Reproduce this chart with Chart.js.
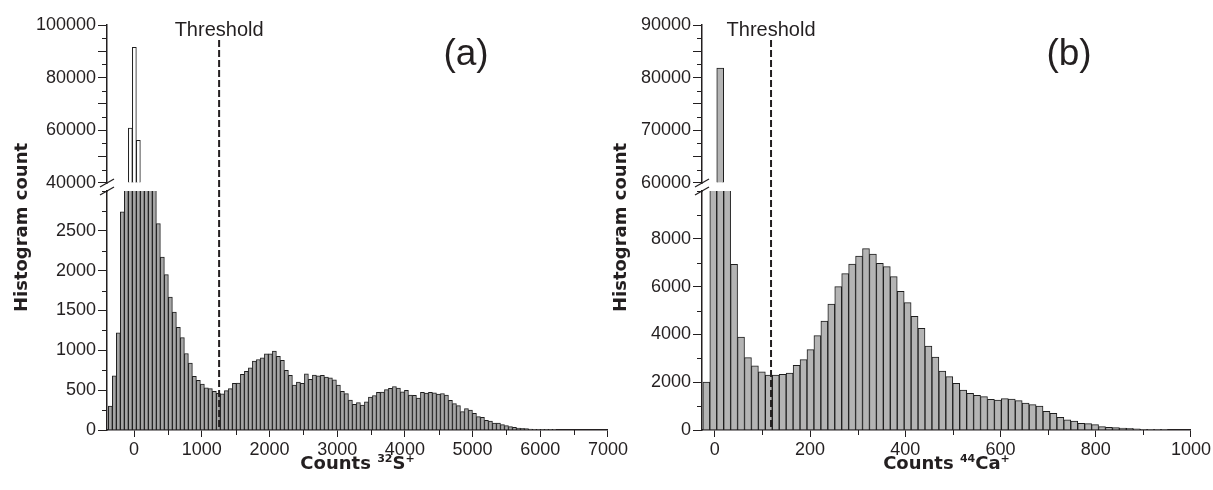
<!DOCTYPE html>
<html>
<head>
<meta charset="utf-8">
<script src="https://cdn.jsdelivr.net/npm/chart.js@4.4.1/dist/chart.umd.min.js"></script>
<style>
  html, body { margin: 0; padding: 0; background: #fff; }
  #wrap { position: relative; width: 1213px; height: 490px; overflow: hidden; }
  canvas { position: absolute; top: 0; }
  #chartS { left: 0; }
  #chartCa { left: 600px; }
</style>
</head>
<body>
<div id="wrap">
  <canvas id="chartS" width="630" height="490"></canvas>
  <canvas id="chartCa" width="613" height="490"></canvas>
</div>
<script>
'use strict';

// 32S+ histogram: lower edge of the first bin, bin width, counts per bin
const binStartS = -380;
const binWidthS = 59.1;
const countsS = [
  300, 680, 1220, 2740, 18000, 60900, 91500, 56200, 24000, 9000,
  5000, 3400, 2590, 2170, 1950, 1670, 1480, 1290, 1160, 960,
  840, 675, 625, 575, 530, 520, 485, 460, 455, 495,
  520, 585, 590, 700, 735, 780, 865, 885, 905, 955,
  955, 990, 925, 875, 750, 685, 565, 600, 586, 705,
  635, 690, 680, 686, 665, 655, 630, 565, 485, 456,
  377, 322, 343, 312, 355, 412, 433, 473, 475, 506,
  523, 546, 525, 479, 498, 437, 435, 402, 473, 462,
  473, 466, 450, 458, 439, 372, 331, 305, 230, 268,
  251, 209, 167, 159, 121, 113, 88, 88, 67, 54,
  42, 33, 25, 21, 17, 12, 8, 8, 5, 4,
  3, 2
];
const thresholdS = 1256;

// 44Ca+ histogram
const binStartCa = -25.2;
const binWidthCa = 14.58;
const countsCa = [
  2000, 35000, 81800, 20000, 6930, 3890, 3030, 2680, 2430, 2300,
  2300, 2330, 2385, 2705, 2945, 3360, 3950, 4560, 5270, 6000,
  6545, 6945, 7280, 7590, 7365, 6975, 6835, 6415, 5805, 5330,
  4755, 4255, 3515, 3055, 2470, 2230, 1955, 1675, 1535, 1450,
  1395, 1285, 1255, 1310, 1295, 1230, 1130, 1060, 1005, 780,
  700, 530, 430, 375, 280, 265, 225, 140, 110, 100,
  85, 70, 45, 30, 30, 15, 15
];
const thresholdCa = 118;

// tick values: long marks, labelled marks, short marks
const xTicksS = [0, 1000, 2000, 3000, 4000, 5000, 6000, 7000];
const xMinorS = [500, 1500, 2500, 3500, 4500, 5500, 6500];
const lowTicksS = [0, 500, 1000, 1500, 2000, 2500];
const lowMinorS = [250, 750, 1250, 1750, 2250, 2750, 3000];
const highTicksS = [40000, 50000, 60000, 70000, 80000, 90000, 100000];
const highLabelsS = [40000, 60000, 80000, 100000];
const highMinorS = [45000, 55000, 65000, 75000, 85000, 95000];

const xTicksCa = [0, 200, 400, 600, 800, 1000];
const xMinorCa = [100, 300, 500, 700, 900];
const lowTicksCa = [0, 2000, 4000, 6000, 8000];
const lowMinorCa = [1000, 3000, 5000, 7000, 9000, 10000];
const highTicksCa = [60000, 65000, 70000, 75000, 80000, 85000, 90000];
const highLabelsCa = [60000, 70000, 80000, 90000];
const highMinorCa = [62500, 67500, 72500, 77500, 82500, 87500];

const INK = '#231f20';
const TICK_FONT = {family: "'Liberation Sans', Arial, sans-serif", size: 18};
const TITLE_FAMILY = "'DejaVu Sans', sans-serif";

// each dataset only paints inside the band of its own y axis
const clipToAxis = {
  id: 'clipToAxis',
  beforeDatasetDraw(chart, args) {
    const y = chart.scales[args.meta.yAxisID];
    const area = chart.chartArea;
    chart.ctx.save();
    chart.ctx.beginPath();
    chart.ctx.rect(area.left, y.top, area.right - area.left, y.bottom - y.top);
    chart.ctx.clip();
  },
  afterDatasetDraw(chart) {
    chart.ctx.restore();
  }
};

function drawRichText(ctx, parts, cx, baseline, size) {
  const supSize = Math.round(size * 0.62);
  let width = 0;
  parts.forEach(function (part) {
    ctx.font = 'bold ' + (part[1] ? supSize : size) + 'px ' + TITLE_FAMILY;
    width += ctx.measureText(part[0]).width;
  });
  let x = cx - width / 2;
  ctx.textAlign = 'left';
  ctx.textBaseline = 'alphabetic';
  parts.forEach(function (part) {
    ctx.font = 'bold ' + (part[1] ? supSize : size) + 'px ' + TITLE_FAMILY;
    ctx.fillText(part[0], x, part[1] ? baseline - size * 0.4 : baseline);
    x += ctx.measureText(part[0]).width;
  });
}

function minorTicks(ctx, scale, values, len) {
  values.forEach(function (v) {
    const p = Math.round(scale.getPixelForValue(v)) + 0.5;
    ctx.beginPath();
    if (scale.isHorizontal()) {
      ctx.moveTo(p, scale.top);
      ctx.lineTo(p, scale.top + len);
    } else {
      ctx.moveTo(scale.right - len, p);
      ctx.lineTo(scale.right, p);
    }
    ctx.stroke();
  });
}

function decor(p) {
  return {
    id: 'decor',
    afterDraw(chart) {
      const ctx = chart.ctx;
      const area = chart.chartArea;
      const x = chart.scales.x;
      const low = chart.scales.yLow;
      const high = chart.scales.yHigh;
      ctx.save();
      ctx.strokeStyle = INK;
      ctx.fillStyle = INK;
      ctx.lineWidth = 1;
      minorTicks(ctx, x, p.xMinor, 5);
      minorTicks(ctx, low, p.lowMinor, 5);
      minorTicks(ctx, high, p.highMinor, 5);

      // axis break between the two y bands
      const yb = high.getPixelForValue(p.breakAt);
      const yt = low.top;
      ctx.fillStyle = '#fff';
      ctx.fillRect(area.left - 2, yb + 1, 4, yt - yb - 2);
      ctx.lineWidth = 1.3;
      [yb, yt].forEach(function (y) {
        ctx.beginPath();
        ctx.moveTo(area.left - 7, y + 4);
        ctx.lineTo(area.left + 7, y - 4);
        ctx.stroke();
      });

      // threshold marker
      const tx = x.getPixelForValue(p.threshold);
      ctx.lineWidth = 2;
      ctx.setLineDash([7, 3]);
      ctx.beginPath();
      ctx.moveTo(tx, 40);
      ctx.lineTo(tx, area.bottom);
      ctx.stroke();
      ctx.setLineDash([]);

      ctx.fillStyle = INK;
      ctx.font = '20px ' + TICK_FONT.family;
      ctx.textAlign = 'center';
      ctx.textBaseline = 'alphabetic';
      ctx.fillText('Threshold', tx, 36);
      ctx.font = '37px ' + TICK_FONT.family;
      ctx.fillText(p.letter, p.letterX, 65);

      // axis titles
      ctx.save();
      ctx.translate(p.yTitleX, (area.top + area.bottom) / 2);
      ctx.rotate(-Math.PI / 2);
      ctx.font = 'bold 18px ' + TITLE_FAMILY;
      ctx.textAlign = 'center';
      ctx.textBaseline = 'middle';
      ctx.fillText('Histogram count', 0, 0);
      ctx.restore();
      drawRichText(ctx, p.xTitle, (area.left + area.right) / 2, 469, 18);
      ctx.restore();
    }
  };
}

function axisTicks(values, labels) {
  return {
    afterBuildTicks: function (scale) {
      scale.ticks = values.map(function (v) { return {value: v}; });
    },
    ticks: {
      autoSkip: false,
      maxRotation: 0,
      color: INK,
      font: TICK_FONT,
      padding: 2,
      callback: function (v) { return labels.indexOf(v) >= 0 ? String(v) : ''; }
    },
    grid: {drawOnChartArea: false, drawTicks: true, tickLength: 9, color: INK, lineWidth: 1},
    border: {display: true, color: INK, width: 1.5}
  };
}

function histogramPanel(canvasId, p) {
  const points = p.counts.map(function (c, i) {
    return {x: p.binStart + p.binWidth * (i + 0.5), y: c};
  });
  const barStyle = {
    borderColor: '#1e1e1e',
    borderWidth: 1,
    borderSkipped: 'start',
    barPercentage: 1,
    categoryPercentage: 1,
    grouped: false
  };
  const xAxis = Object.assign(axisTicks(p.xTicks, p.xTicks), {
    type: 'linear', min: p.xMin, max: p.xMax, offset: false,
    afterFit: function (scale) { scale.height = 60; }
  });
  xAxis.grid.tickLength = 7;
  xAxis.grid.offset = false;
  const lowAxis = Object.assign(axisTicks(p.lowTicks, p.lowTicks), {
    type: 'linear', position: 'left', stack: 'y', stackWeight: 239,
    min: 0, max: p.lowMax,
    afterFit: function (scale) { scale.width = p.axisLeft; }
  });
  const highAxis = Object.assign(axisTicks(p.highTicks, p.highLabels), {
    type: 'linear', position: 'left', stack: 'y', stackWeight: 166,
    min: p.highMin, max: p.highMax,
    afterFit: function (scale) { scale.width = p.axisLeft; }
  });

  return new Chart(document.getElementById(canvasId), {
    type: 'bar',
    data: {
      datasets: [
        Object.assign({
          data: points.filter(function (pt) { return pt.y > p.breakAt; }),
          yAxisID: 'yHigh', backgroundColor: p.highFill, base: p.breakAt
        }, barStyle),
        Object.assign({data: points, yAxisID: 'yLow', backgroundColor: p.fill}, barStyle)
      ]
    },
    options: {
      responsive: false,
      animation: false,
      layout: {padding: {left: 0, right: p.padRight, top: 25, bottom: 0}},
      plugins: {legend: {display: false}, tooltip: {enabled: false}},
      scales: {x: xAxis, yLow: lowAxis, yHigh: highAxis}
    },
    plugins: [clipToAxis, decor(p)]
  });
}

histogramPanel('chartS', {
  counts: countsS, binStart: binStartS, binWidth: binWidthS,
  threshold: thresholdS,
  xMin: -400, xMax: 7000, xTicks: xTicksS, xMinor: xMinorS,
  lowMax: 3000, lowTicks: lowTicksS, lowMinor: lowMinorS,
  breakAt: 40000, highMin: 36962, highMax: 100000,
  highTicks: highTicksS, highLabels: highLabelsS, highMinor: highMinorS,
  fill: '#a6a6a6', highFill: '#ffffff',
  axisLeft: 107, padRight: 22, yTitleX: 22, letter: '(a)', letterX: 466,
  xTitle: [['Counts ', false], ['32', true], ['S', false], ['+', true]]
});

histogramPanel('chartCa', {
  counts: countsCa, binStart: binStartCa, binWidth: binWidthCa,
  threshold: thresholdCa,
  xMin: -27, xMax: 1000, xTicks: xTicksCa, xMinor: xMinorCa,
  lowMax: 10000, lowTicks: lowTicksCa, lowMinor: lowMinorCa,
  breakAt: 60000, highMin: 58481, highMax: 90000,
  highTicks: highTicksCa, highLabels: highLabelsCa, highMinor: highMinorCa,
  fill: '#b4b4b4', highFill: '#b4b4b4',
  axisLeft: 102, padRight: 22, yTitleX: 21, letter: '(b)', letterX: 469,
  xTitle: [['Counts ', false], ['44', true], ['Ca', false], ['+', true]]
});
</script>
</body>
</html>
